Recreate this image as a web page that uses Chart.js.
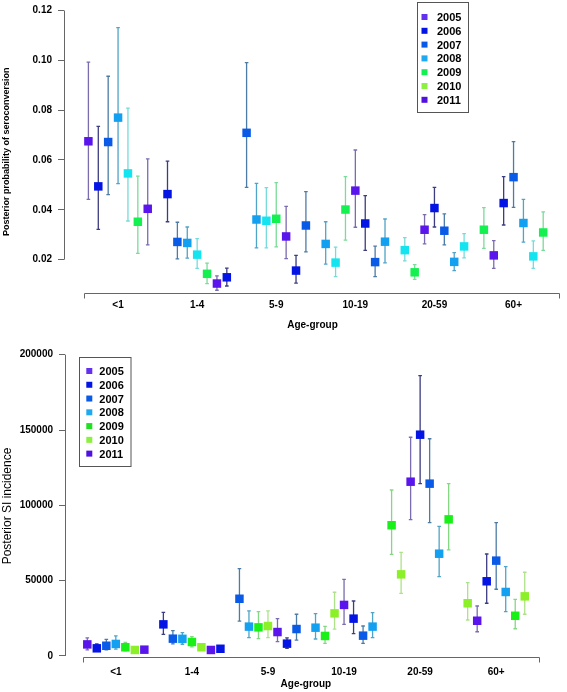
<!DOCTYPE html>
<html><head><meta charset="utf-8">
<script src="https://cdn.jsdelivr.net/npm/chart.js@4.4.1/dist/chart.umd.min.js"></script>
<style>
html,body{margin:0;padding:0;background:#fff;}
canvas{display:block;}
</style></head><body>
<canvas id="c1" width="567" height="340"></canvas>
<canvas id="c2" width="567" height="352"></canvas>
<script>
const ageGroups = ['<1', '1-4', '5-9', '10-19', '20-59', '60+'];
const years = ['2005', '2006', '2007', '2008', '2009', '2010', '2011'];
const probTicks = [0.02, 0.04, 0.06, 0.08, 0.10, 0.12];
const incTicks = [0, 50000, 100000, 150000, 200000];

// Posterior probability of seroconversion: [age group][year]
const probMean = [
  [0.0675, 0.0494, 0.0672, 0.0770, 0.0546, 0.0352, 0.0404],
  [0.0463, 0.0271, 0.0267, 0.0220, 0.0143, 0.0104, 0.0129],
  [0.0709, 0.0361, 0.0356, 0.0364, 0.0293, 0.0156, 0.0337],
  [0.0263, 0.0188, 0.0401, 0.0477, 0.0345, 0.0190, 0.0272],
  [0.0238, 0.0149, 0.0320, 0.0407, 0.0316, 0.0191, 0.0253],
  [0.0320, 0.0217, 0.0427, 0.0531, 0.0347, 0.0213, 0.0309]
];
const probLow = [
  [0.0442, 0.0321, 0.0461, 0.0505, 0.0355, 0.0225, 0.0259],
  [0.0352, 0.0203, 0.0206, 0.0165, 0.0104, 0.0077, 0.0094],
  [0.0490, 0.0247, 0.0247, 0.0251, 0.0204, 0.0106, 0.0231],
  [0.0182, 0.0132, 0.0278, 0.0330, 0.0237, 0.0132, 0.0187],
  [0.0195, 0.0121, 0.0263, 0.0331, 0.0259, 0.0156, 0.0207],
  [0.0245, 0.0165, 0.0339, 0.0410, 0.0270, 0.0165, 0.0237]
];
const probHigh = [
  [0.0993, 0.0735, 0.0936, 0.1131, 0.0808, 0.0535, 0.0604],
  [0.0595, 0.0350, 0.0331, 0.0284, 0.0186, 0.0135, 0.0166],
  [0.0991, 0.0506, 0.0489, 0.0509, 0.0414, 0.0217, 0.0473],
  [0.0352, 0.0250, 0.0533, 0.0640, 0.0457, 0.0254, 0.0363],
  [0.0288, 0.0180, 0.0381, 0.0490, 0.0384, 0.0228, 0.0304],
  [0.0409, 0.0276, 0.0533, 0.0674, 0.0442, 0.0275, 0.0392]
];

// Posterior SI incidence: [age group][year]
const incMean = [
  [7700, 5100, 6800, 8000, 5800, 4000, 4200],
  [21000, 11500, 11400, 9300, 5800, 4000, 4800],
  [38000, 19500, 19000, 19900, 15900, 8200, 17900],
  [18800, 13300, 28300, 33900, 24800, 13500, 19500],
  [86800, 54200, 115700, 146900, 114400, 67900, 90700],
  [35000, 23400, 49600, 63300, 42500, 26700, 39600]
];
const incLow = [
  [4000, 3500, 4000, 4500, 3500, 2500, 3000],
  [14400, 8000, 7800, 6000, 4500, 3000, 3500],
  [23200, 12200, 11500, 12200, 9500, 5100, 10600],
  [11300, 8400, 17900, 21000, 14800, 8400, 12200],
  [67500, 41600, 90500, 114400, 88500, 52700, 70400],
  [23900, 16100, 35000, 44300, 29400, 18100, 27700]
];
const incHigh = [
  [12000, 8000, 11000, 13300, 9000, 5500, 5500],
  [29000, 16800, 15500, 12800, 7500, 5000, 6000],
  [58000, 29900, 29400, 30000, 24800, 12000, 27700],
  [28100, 19700, 42300, 50900, 36500, 19900, 28800],
  [110200, 68800, 145200, 186100, 144200, 86100, 114400],
  [48700, 33200, 67700, 88500, 59300, 37600, 55600]
];

const FONT = '"Liberation Sans", Arial, Helvetica, sans-serif';
const topPalette = ['#5a14ec', '#0414e4', '#0a5ae8', '#14a0f0', '#14e4f0', '#14f050'];
const topBarColors = ['#7b6cb0', '#3c3c80', '#4c7ca6', '#50a4c8', '#78dada', '#7adc98'];
const botPalette = ['#5a14ec', '#0414e4', '#0a5ae8', '#14a0f0', '#18f018', '#8cf028'];
const botBarColors = ['#7b6cb0', '#3c3c80', '#4c7ca6', '#50a4c8', '#84d884', '#aee288'];
const topLegendColors = ['#6430f0', '#0414e4', '#0a5ae8', '#20a8f0', '#14f050', '#8cf040', '#5010e0'];
const botLegendColors = ['#6430f0', '#0414e4', '#0a5ae8', '#20a8f0', '#20e020', '#8cf040', '#5010e0'];

function makeChart(id, cfg) {
  const datasets = years.map((yr, yi) => ({
    label: yr,
    data: ageGroups.map((g, gi) => ({ x: gi * 8 + yi, y: cfg.mean[gi][yi] })),
    pointBackgroundColor: ageGroups.map((g, gi) => cfg.palette[(gi * 7 + yi) % 6]),
    pointBorderWidth: 0,
    pointRadius: 6,
    pointHoverRadius: 6,
    pointStyle: 'rect',
    showLine: false,
    clip: false
  }));

  const errorBars = {
    id: 'errorBars',
    beforeDatasetsDraw(chart) {
      const ctx = chart.ctx;
      const ys = chart.scales.y;
      ctx.save();
      ctx.lineWidth = 1.3;
      years.forEach((yr, yi) => {
        const meta = chart.getDatasetMeta(yi);
        meta.data.forEach((el, gi) => {
          const c = cfg.barColors[(gi * 7 + yi) % 6];
          const x = el.x;
          const y1 = ys.getPixelForValue(cfg.low[gi][yi]);
          const y2 = ys.getPixelForValue(cfg.high[gi][yi]);
          ctx.strokeStyle = c;
          ctx.beginPath();
          ctx.moveTo(x, y1); ctx.lineTo(x, y2);
          ctx.moveTo(x - 1.8, y1); ctx.lineTo(x + 1.8, y1);
          ctx.moveTo(x - 1.8, y2); ctx.lineTo(x + 1.8, y2);
          ctx.stroke();
        });
      });
      ctx.restore();
    }
  };

  const axes = {
    id: 'rAxes',
    afterDraw(chart) {
      const ctx = chart.ctx;
      const xs = chart.scales.x, ys = chart.scales.y;
      const a = chart.chartArea;
      ctx.save();
      ctx.strokeStyle = '#666';
      ctx.lineWidth = 1;
      const yx = Math.round(a.left) + 0.5;
      ctx.beginPath();
      ctx.moveTo(yx, ys.getPixelForValue(cfg.ticks[0]));
      ctx.lineTo(yx, ys.getPixelForValue(cfg.ticks[cfg.ticks.length - 1]));
      ctx.stroke();
      const by = Math.round(a.bottom) + 0.5;
      const xl = Math.round(xs.getPixelForValue(cfg.axisFrom)) + 0.5;
      const xr = Math.round(xs.getPixelForValue(cfg.axisTo)) + 0.5;
      ctx.beginPath();
      ctx.moveTo(xl, by + 5); ctx.lineTo(xl, by); ctx.lineTo(xr, by); ctx.lineTo(xr, by + 5);
      ctx.stroke();
      ctx.restore();
    }
  };

  const legend = {
    id: 'yrLegend',
    afterDraw(chart) {
      const ctx = chart.ctx;
      const b = cfg.legend;
      ctx.save();
      ctx.fillStyle = '#fff';
      ctx.fillRect(b.x, b.y, b.w, b.h);
      ctx.strokeStyle = '#555';
      ctx.lineWidth = 1;
      ctx.strokeRect(b.x, b.y, b.w, b.h);
      ctx.font = 'bold 11px ' + FONT;
      ctx.textBaseline = 'middle';
      ctx.textAlign = 'left';
      years.forEach((yr, i) => {
        const cy = b.row0 + i * b.step;
        ctx.fillStyle = cfg.legendColors[i];
        ctx.fillRect(b.sx - 3, cy - 3, 6, 6);
        ctx.fillStyle = '#000';
        ctx.fillText(yr, b.tx, cy + 1);
      });
      ctx.restore();
    }
  };

  return new Chart(document.getElementById(id), {
    type: 'scatter',
    data: { datasets },
    plugins: [errorBars, axes, legend],
    options: {
      responsive: false,
      animation: false,
      events: [],
      layout: { padding: { top: cfg.padTop, right: cfg.padRight, left: 0, bottom: 0 } },
      plugins: { legend: { display: false }, tooltip: { enabled: false } },
      scales: {
        x: {
          type: 'linear',
          min: cfg.xmin,
          max: cfg.xmax,
          afterBuildTicks: (s) => { s.ticks = ageGroups.map((g, i) => ({ value: i * 8 + 3 })); },
          afterFit: (s) => { s.height = cfg.xHeight; },
          ticks: {
            callback: (v, i) => ageGroups[i],
            autoSkip: false,
            maxRotation: 0,
            padding: cfg.xTickPad,
            color: '#000',
            font: { family: FONT, size: 10, weight: 'bold' }
          },
          grid: { display: false, drawTicks: false },
          border: { display: false },
          title: {
            display: true,
            text: 'Age-group',
            color: '#000',
            font: { family: FONT, size: 10, weight: 'bold' },
            padding: { top: 0, bottom: cfg.xTitlePad }
          }
        },
        y: {
          type: 'linear',
          min: cfg.ymin,
          max: cfg.ymax,
          afterBuildTicks: (s) => { s.ticks = cfg.ticks.map(v => ({ value: v })); },
          afterFit: (s) => { s.width = cfg.yWidth; },
          ticks: {
            callback: cfg.tickFmt,
            padding: 6,
            color: '#000',
            font: { family: FONT, size: 10, weight: 'bold', lineHeight: 0.9 }
          },
          grid: { display: true, drawOnChartArea: false, drawTicks: true, tickLength: 6, color: '#666', lineWidth: 1 },
          border: { display: false },
          title: {
            display: true,
            text: cfg.yTitle,
            color: '#000',
            font: cfg.yTitleFont,
            padding: { top: cfg.yTitlePad, bottom: 0 }
          }
        }
      }
    }
  });
}

makeChart('c1', {
  mean: probMean, low: probLow, high: probHigh,
  palette: topPalette, barColors: topBarColors, legendColors: topLegendColors,
  ticks: probTicks,
  tickFmt: (v) => Number(v).toFixed(2),
  ymin: 0.0066, ymax: 0.12,
  xmin: -2.468, xmax: 47.80,
  axisFrom: -0.44, axisTo: 47.6,
  padTop: 4.7, padRight: 0,
  xHeight: 47, xTickPad: 6, xTitlePad: 9,
  yWidth: 64, yTitlePad: 1.5,
  yTitle: 'Posterior probability of seroconversion',
  yTitleFont: { family: FONT, size: 9, weight: 'bold' },
  legend: { x: 417.5, y: 2.5, w: 51, h: 110, sx: 424.5, tx: 437, row0: 17, step: 13.8 }
});

makeChart('c2', {
  mean: incMean, low: incLow, high: incHigh,
  palette: botPalette, barColors: botBarColors, legendColors: botLegendColors,
  ticks: incTicks,
  tickFmt: (v) => String(v),
  ymin: -863, ymax: 200000,
  xmin: -2.345, xmax: 48.31,
  axisFrom: -0.42, axisTo: 47.5,
  padTop: 14.7, padRight: 20.3,
  xHeight: 34.7, xTickPad: 9, xTitlePad: 1.5,
  yWidth: 65, yTitlePad: 0,
  yTitle: 'Posterior SI incidence',
  yTitleFont: { family: FONT, size: 12, weight: 'normal' },
  legend: { x: 79.5, y: 17.5, w: 51.5, h: 109, sx: 89.3, tx: 99.3, row0: 31, step: 13.77 }
});
</script>
</body></html>
